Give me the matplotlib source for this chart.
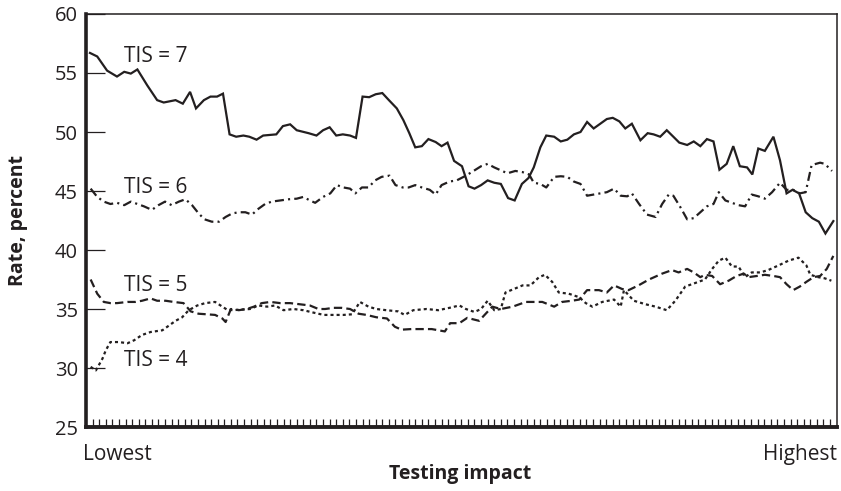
#!/usr/bin/env python3
"""
Rate by testing impact, one line per TIS level.
"""

import matplotlib
matplotlib.use('Agg')
import matplotlib.pyplot as plt

# Data: x is the rank along the testing-impact axis
x7 = [0.6, 1.7, 3.2, 4.7, 5.8, 6.8, 7.8, 9.3, 10.8, 11.8, 13.6, 14.7, 15.8, 16.7, 17.9, 18.9,
      19.9, 20.8, 21.8, 22.8, 23.9, 24.8, 25.9, 26.9, 28.9, 29.9, 31, 32, 33.8, 35, 36, 37,
      38, 39, 40.1, 41, 42, 43, 44, 45, 46, 47.2, 48.2, 49.1, 50, 51, 52, 53.1, 54, 54.9,
      55.9, 57.1, 58.1, 59, 60, 61, 62, 63, 64.1, 65.1, 66.2, 67.2, 68, 69, 69.9, 71.1, 72.1,
      73.1, 74.1, 75.1, 76.1, 77.1, 78.1, 79.1, 80, 81, 81.9, 82.9, 84.2, 85.3, 86.2, 87.2,
      88.2, 89.2, 90.1, 91.3, 92.3, 93.3, 94.3, 95.3, 96.2, 97.3, 98.3, 99.3, 100.4, 101.2,
      102.1, 103.1, 104.4, 105.4, 106.4, 107.3, 108.3, 109.3, 110.3, 111.3, 112.3, 113.5]
tis7 = [56.7, 56.4, 55.2, 54.7, 55.1, 54.95, 55.3, 53.95, 52.7, 52.5, 52.7, 52.4, 53.4, 52.0,
        52.7, 53.0, 53.0, 53.25, 49.8, 49.6, 49.7, 49.6, 49.35, 49.7, 49.8, 50.5, 50.65, 50.15,
        49.9, 49.7, 50.15, 50.4, 49.7, 49.8, 49.7, 49.5, 53.0, 52.95, 53.2, 53.3, 52.7, 52.0,
        51.0, 49.9, 48.7, 48.8, 49.4, 49.15, 48.8, 49.1, 47.55, 47.1, 45.4, 45.2, 45.5, 45.9,
        45.7, 45.6, 44.4, 44.2, 45.6, 46.1, 47.0, 48.7, 49.7, 49.6, 49.2, 49.35, 49.8, 50.0,
        50.85, 50.3, 50.7, 51.1, 51.2, 50.9, 50.3, 50.7, 49.3, 49.9, 49.8, 49.6, 50.15, 49.6,
        49.1, 48.9, 49.2, 48.8, 49.4, 49.2, 46.8, 47.3, 48.8, 47.1, 47.0, 46.4, 48.6, 48.4,
        49.6, 47.6, 44.8, 45.1, 44.8, 43.2, 42.7, 42.4, 41.4, 42.45]

x6 = [0.7, 1.7, 2.7, 3.7, 4.7, 5.8, 6.8, 7.8, 8.8, 10, 11, 12, 13, 14.1, 15.1, 16.1, 17.1, 18,
      19.1, 20.2, 21.2, 22.2, 23.2, 24.2, 25.2, 26.2, 27.2, 28.2, 29.5, 30.8, 32, 33, 34, 34.8,
      36, 37.1, 38.1, 39.1, 40.1, 40.9, 41.9, 42.9, 43.9, 44.9, 46.1, 47, 48.1, 49, 50, 51,
      52.2, 53.1, 54, 55.2, 56.3, 57.7, 59, 60, 61, 62, 63, 64, 65.2, 66.3, 67.3, 68, 69, 69.9,
      71.1, 72.1, 73.1, 74.1, 75.1, 76.1, 77.1, 78.1, 79.1, 80.2, 81.2, 82.2, 82.9, 84, 85.2,
      86.5, 87.5, 88.5, 89.2, 90.3, 91.3, 92.3, 93.3, 94.3, 95.3, 96.1, 97.1, 98.1, 99.1,
      100.1, 101.1, 102.1, 103.1, 104.2, 105.4, 106.4, 107.4, 108.4, 109.3, 110.2, 111.5,
      112.2, 113.3]
tis6 = [45.2, 44.5, 44.1, 43.9, 44.0, 43.8, 44.1, 43.9, 43.7, 43.4, 43.8, 44.1, 43.8, 44.1,
        44.3, 43.8, 43.1, 42.6, 42.4, 42.4, 42.8, 43.1, 43.2, 43.2, 43.0, 43.5, 43.9, 44.1,
        44.2, 44.3, 44.35, 44.5, 44.2, 44.0, 44.5, 44.8, 45.5, 45.3, 45.2, 44.8, 45.3, 45.3,
        45.9, 46.2, 46.3, 45.5, 45.3, 45.3, 45.5, 45.3, 45.1, 44.7, 45.5, 45.8, 45.9, 46.3,
        46.75, 47.1, 47.3, 47.0, 46.75, 46.5, 46.7, 46.6, 46.4, 45.7, 45.6, 45.3, 46.2, 46.25,
        46.2, 45.8, 45.6, 44.6, 44.7, 44.8, 44.9, 45.2, 44.6, 44.55, 44.8, 43.9, 43.0, 42.8,
        43.9, 44.7, 44.6, 43.6, 42.6, 42.7, 43.2, 43.7, 43.9, 44.9, 44.2, 44.0, 43.8, 43.7,
        44.7, 44.55, 44.35, 44.9, 45.7, 45.1, 45.1, 44.8, 44.9, 47.2, 47.4, 47.3, 46.7]

x5 = [0.7, 1.7, 2.7, 3.7, 4.7, 6.3, 7.5, 8.5, 9.8, 10.8, 12.1, 13.3, 14.8, 15.9, 17.1, 18.4,
      19.6, 20.7, 21.2, 22, 23.2, 24.4, 25.5, 26.7, 28, 29.5, 31, 32.5, 34, 35.3, 36.3, 37.6,
      38.8, 40.1, 41.4, 42.6, 44.1, 45.7, 46.9, 47.9, 49.4, 50.9, 52.5, 54.5, 55.3, 56.7,
      57.9, 59.7, 60.7, 61.7, 63, 64.8, 66.8, 69.3, 71.1, 72.3, 73.8, 74.9, 76.1, 77.9, 79.1,
      80.2, 81.4, 82.4, 83.9, 85.5, 87.5, 89, 90, 91.3, 92.3, 93.3, 94, 95.1, 96.3, 97.6,
      98.8, 99.9, 100.6, 101.9, 103.1, 104.4, 105.4, 106.4, 107.4, 108.4, 109.4, 110.5,
      111.5, 112.5, 113.5]
tis5 = [37.5, 36.3, 35.6, 35.5, 35.5, 35.6, 35.6, 35.7, 35.9, 35.7, 35.7, 35.6, 35.5, 34.8,
        34.6, 34.55, 34.5, 34.2, 33.9, 35.0, 34.9, 35.0, 35.2, 35.5, 35.6, 35.5, 35.5, 35.4,
        35.3, 35.0, 35.0, 35.1, 35.1, 35.0, 34.6, 34.5, 34.3, 34.2, 33.5, 33.25, 33.3, 33.3,
        33.3, 33.1, 33.8, 33.8, 34.25, 34.0, 34.6, 35.2, 35.0, 35.2, 35.6, 35.6, 35.2, 35.6,
        35.7, 35.8, 36.6, 36.6, 36.4, 37.0, 36.7, 36.6, 37.0, 37.5, 38.0, 38.3, 38.1, 38.4,
        38.1, 37.7, 37.9, 37.8, 37.1, 37.4, 37.8, 38.0, 37.7, 37.8, 37.9, 37.8, 37.7, 37.1,
        36.6, 36.9, 37.3, 37.7, 37.8, 38.4, 39.5]

x4 = [0.7, 1.5, 2.5, 3, 3.7, 5, 6.3, 7.3, 8.5, 9.8, 11.6, 12.6, 13.6, 14.6, 15.6, 16.9, 18.1,
      19.6, 20.7, 21.4, 22.4, 23.4, 24.9, 26.2, 27.5, 28.7, 30, 31.5, 33, 34.5, 36.1, 37.6,
      39.1, 40.4, 41.6, 42.9, 44.1, 45.6, 47.4, 48.4, 49.7, 51.7, 53.5, 55.2, 56.7, 57.7, 59,
      60, 61, 62, 63, 63.7, 65, 66.3, 67.5, 68.8, 69.7, 70.8, 71.8, 73.3, 74.9, 75.9, 76.9,
      78.4, 80.2, 81.2, 81.7, 83.2, 85, 86.5, 88.2, 89.5, 91, 92.5, 94, 95.1, 96.1, 97.1,
      98.1, 99.1, 100.1, 101.1, 102.4, 103.6, 105.2, 106.7, 108.2, 109.4, 110, 111.2, 112.2,
      113.2]
tis4 = [30.1, 29.8, 30.8, 31.5, 32.2, 32.2, 32.1, 32.35, 32.8, 33.05, 33.2, 33.6, 34.0, 34.3,
        34.9, 35.3, 35.5, 35.6, 35.2, 34.95, 34.9, 34.95, 35.0, 35.3, 35.2, 35.3, 34.9, 35.0,
        34.9, 34.7, 34.5, 34.5, 34.5, 34.55, 35.6, 35.2, 35.0, 34.9, 34.8, 34.5, 34.9, 35.0,
        34.9, 35.1, 35.3, 35.0, 34.75, 35.0, 35.7, 34.9, 35.0, 36.4, 36.7, 37.0, 37.0, 37.7,
        37.9, 37.3, 36.4, 36.3, 36.0, 35.5, 35.2, 35.6, 35.8, 35.2, 36.6, 35.7, 35.4, 35.2,
        34.9, 35.7, 36.9, 37.2, 37.5, 38.4, 39.1, 39.35, 38.6, 38.6, 37.7, 38.1, 38.1, 38.3,
        38.7, 39.1, 39.35, 38.7, 37.9, 37.7, 37.6, 37.4]

labels = ['TIS = 7', 'TIS = 6', 'TIS = 5', 'TIS = 4']
label_pos = [(5.8, 56.4), (5.8, 45.3), (5.8, 37.0), (5.8, 30.65)]
y_ticks = [25, 30, 35, 40, 45, 50, 55, 60]

ink = '#231f20'
plt.rcParams['font.family'] = ['Open Sans', 'DejaVu Sans']
plt.rcParams['lines.scale_dashes'] = False


def main():
	fig = plt.figure(figsize=(8.41, 4.91), dpi=100)
	ax = fig.add_axes([0.1023, 0.1303, 0.8925, 0.8412])

	lw = 1.6
	ax.plot(x7, tis7, color=ink, lw=lw, solid_joinstyle='miter')
	ax.plot(x6, tis6, color=ink, lw=lw, dashes=(6.5, 3, 1.5, 3))
	ax.plot(x5, tis5, color=ink, lw=lw, dashes=(6, 3))
	ax.plot(x4, tis4, color=ink, lw=lw, dashes=(2.2, 2.2))

	for text, (tx, ty) in zip(labels, label_pos):
		ax.text(tx, ty, text, fontsize=15, color=ink, ha='left', va='center')

	ax.set_xlim(0, 114)
	ax.set_ylim(25, 60)
	ax.set_yticks(y_ticks)
	ax.set_xticks([])
	ax.set_xticks(range(1, 114), minor=True)
	ax.tick_params(axis='y', direction='in', length=14, width=0.9, color=ink,
				   labelsize=14.5, labelcolor=ink, pad=6)
	ax.tick_params(axis='x', which='minor', direction='in', length=5.5, width=0.9, color=ink)

	for side, w in [('left', 2.6), ('bottom', 2.8), ('top', 1.1), ('right', 1.1)]:
		ax.spines[side].set_linewidth(w)
		ax.spines[side].set_color(ink)

	ax.text(-0.004, -0.067, 'Lowest', transform=ax.transAxes, fontsize=15, color=ink,
			ha='left', va='center')
	ax.text(1, -0.067, 'Highest', transform=ax.transAxes, fontsize=15, color=ink,
			ha='right', va='center')
	fig.text(0.547, 0.034, 'Testing impact', fontsize=14, fontweight='bold', color=ink,
			 ha='center', va='center')
	fig.text(0.021, 0.55, 'Rate, percent', fontsize=14, fontweight='bold', color=ink,
			 ha='center', va='center', rotation=90)

	fig.savefig('out.png', dpi=100)


if __name__ == '__main__':
	main()
